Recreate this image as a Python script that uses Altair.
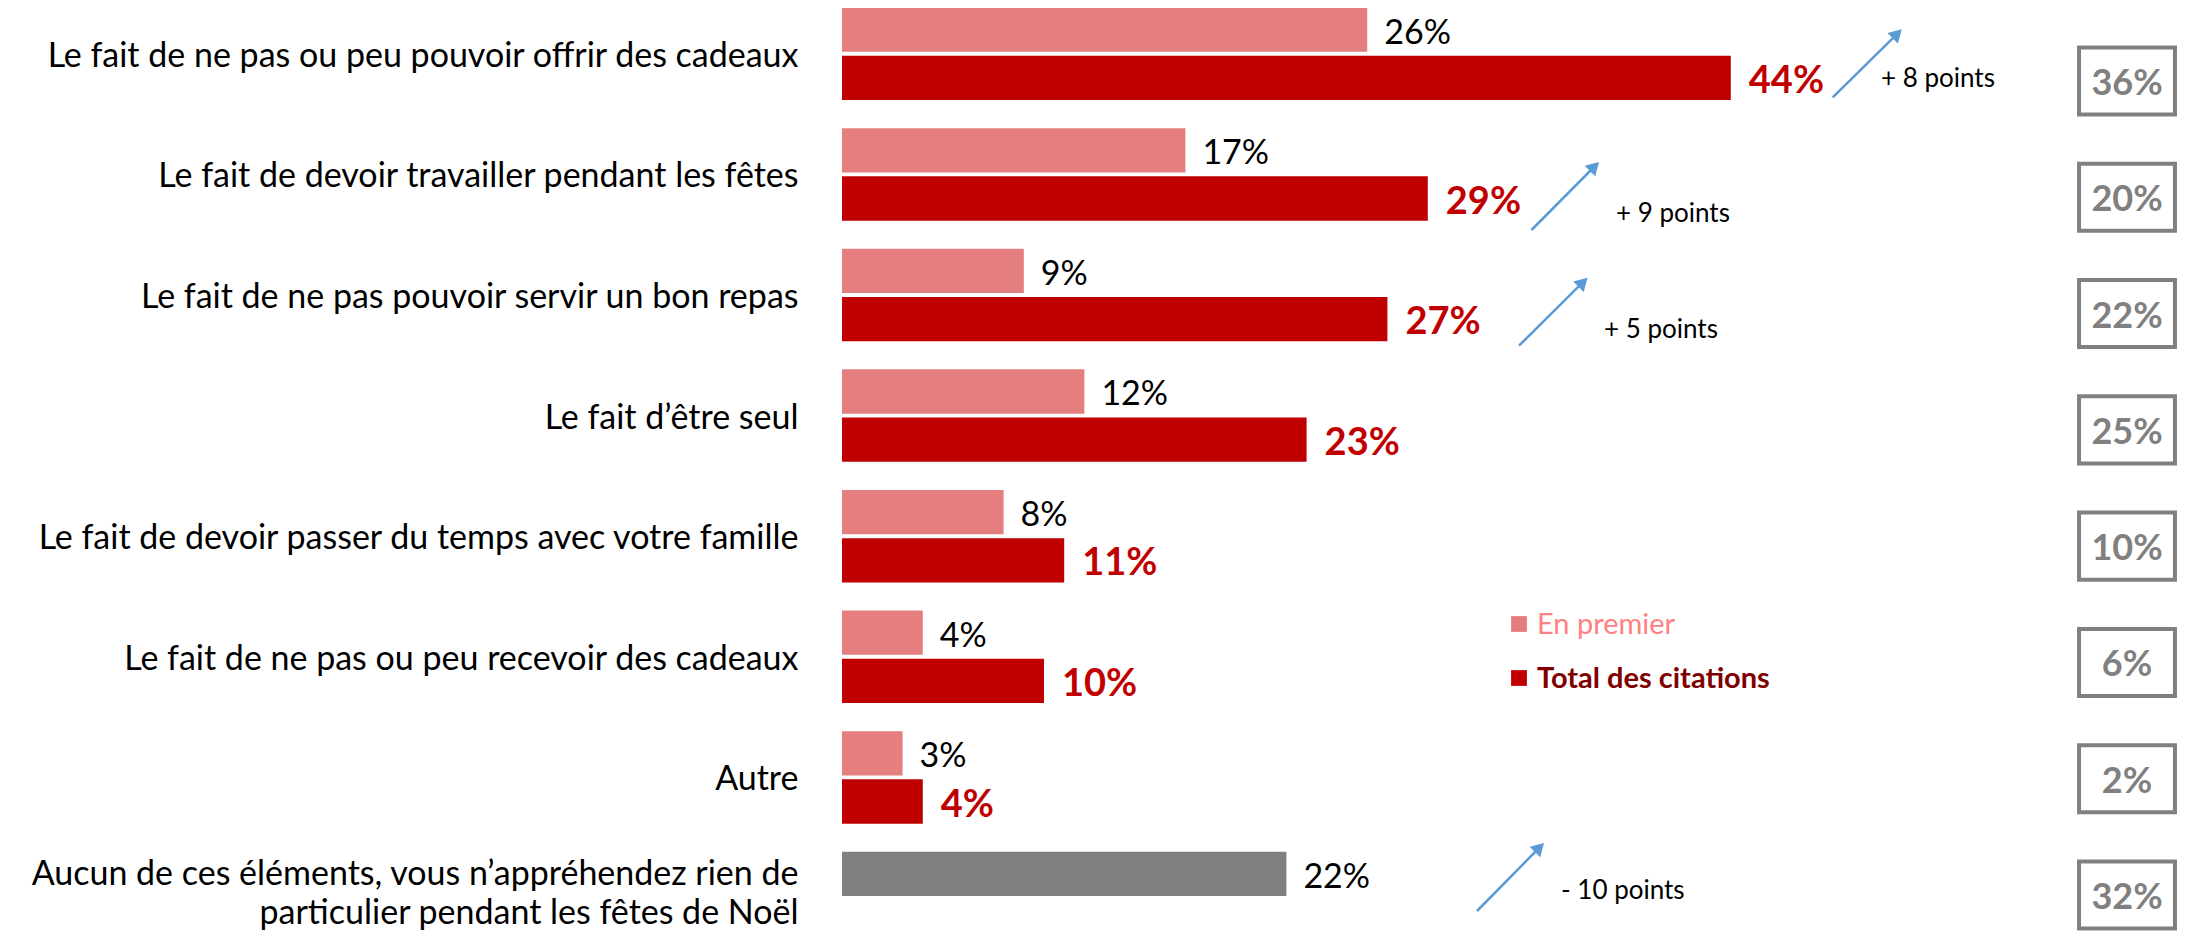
import altair as alt
import pandas as pd

# ---------------- data ----------------
categories = [
    "Le fait de ne pas ou peu pouvoir offrir des cadeaux",
    "Le fait de devoir travailler pendant les fêtes",
    "Le fait de ne pas pouvoir servir un bon repas",
    "Le fait d’être seul",
    "Le fait de devoir passer du temps avec votre famille",
    "Le fait de ne pas ou peu recevoir des cadeaux",
    "Autre",
    "Aucun de ces éléments, vous n’appréhendez rien de\nparticulier pendant les fêtes de Noël",
]
series = ["En premier", "Total des citations"]
en_premier = [26, 17, 9, 12, 8, 4, 3, 22]
total_citations = [44, 29, 27, 23, 11, 10, 4, None]
previous_total = [36, 20, 22, 25, 10, 6, 2, 32]
evolution = ["+ 8 points", "+ 9 points", "+ 5 points", None, None, None, None, "- 10 points"]

# ---------------- styles ----------------
FONT = "Lato"
LIGHT = "#E57F7F"
DARK = "#C00000"
GREY = "#808080"
BLUE = "#5B9BD5"
PX_PER_PCT = 20.2
PLOT_W, PLOT_H = 1335, 927

rows = []
for i, c in enumerate(categories):
    kind_first = "aucun" if total_citations[i] is None else "premier"
    rows.append({"cat": c, "series": series[0], "value": en_premier[i],
                 "kind": kind_first, "label": f"{en_premier[i]}%"})
    if total_citations[i] is not None:
        rows.append({"cat": c, "series": series[1], "value": total_citations[i],
                     "kind": "total", "label": f"{total_citations[i]}%"})
bars_df = pd.DataFrame(rows)
box_df = pd.DataFrame({"cat": categories, "prev": [f"{v}%" for v in previous_total]})

y_scale = alt.Scale(domain=categories, range=[-0.45, 936.25], paddingInner=0.233, paddingOuter=0)
y_axis = alt.Axis(
    title=None, domain=False, ticks=False, labelFont=FONT, labelFontSize=34,
    labelColor="black", labelPadding=44, labelLimit=1200,
    labelExpr="split(datum.label, '\\n')", labelLineHeight=39,
    labelOffset={"condition": {"test": "indexof(datum.value, 'Aucun') == 0", "value": -23}, "value": 3},
)
Y = alt.Y("cat:N", sort=categories, scale=y_scale, axis=y_axis)
YOFF = alt.YOffset("series:N", scale=alt.Scale(domain=series, paddingInner=0.081, paddingOuter=0))
X = alt.X("value:Q", scale=alt.Scale(domain=[0, PLOT_W / PX_PER_PCT], nice=False, zero=True), axis=None)

base = alt.Chart(bars_df)
bars = base.mark_bar().encode(
    y=Y, yOffset=YOFF, x=X,
    color=alt.Color("kind:N", scale=alt.Scale(domain=["premier", "total", "aucun"],
                                              range=[LIGHT, DARK, GREY]), legend=None),
)
lab_first = base.transform_filter(alt.datum.series == series[0]).mark_text(
    align="left", baseline="middle", dx=17, dy=4, font=FONT, fontSize=34, color="black"
).encode(y=Y, yOffset=YOFF, x=X, text="label:N")
lab_total = base.transform_filter(alt.datum.series == series[1]).mark_text(
    align="left", baseline="middle", dx=18, dy=4, font=FONT, fontSize=38, fontWeight="bold", color=DARK
).encode(y=Y, yOffset=YOFF, x=X, text="label:N")

# evolution annotations: (tail x, tail dy, tip x, tip dy, text x, text dy)
ANNOT = {
    0: (990.7, 43.5, 1059.7, -24.5, 1039, 25),
    1: (689.5, 55.6, 757.0, -12.4, 774, 40),
    2: (677.0, 50.7, 745.5, -17.3, 762, 35),
    7: (635.0, 13.0, 702.0, -55.0, 719, -7),
}
annot_layers = []
for i, (tx, tdy, hx, hdy, lx, ldy) in ANNOT.items():
    d = pd.DataFrame({"cat": [categories[i]], "evo": [evolution[i]]})
    c = alt.Chart(d)
    annot_layers.append(
        c.mark_rule(color=BLUE, strokeWidth=2.5, yOffset=tdy, y2Offset=hdy + 4.5)
        .encode(y=Y, y2=alt.Y2("cat"), x=alt.value(tx), x2=alt.value(hx - 4.5))
    )
    annot_layers.append(
        c.mark_point(shape="triangle-up", angle=45, size=220, filled=True, color=BLUE,
                     opacity=1, yOffset=hdy + 4.5)
        .encode(y=Y, x=alt.value(hx - 4.5))
    )
    annot_layers.append(
        c.mark_text(align="left", baseline="middle", font=FONT, fontSize=26, color="black", dy=ldy)
        .encode(y=Y, x=alt.value(lx), text="evo:N")
    )

# legend
leg = []
for s, col, tcol, w, yy in [(series[0], LIGHT, "#FF8080", "normal", 616),
                            (series[1], DARK, "#800000", "bold", 670)]:
    d = pd.DataFrame({"s": [s]})
    leg.append(alt.Chart(d).mark_point(shape="square", size=250, filled=True, color=col, opacity=1)
               .encode(x=alt.value(677), y=alt.value(yy)))
    leg.append(alt.Chart(d).mark_text(align="left", baseline="middle", font=FONT, fontSize=29,
                                      fontWeight=w, color=tcol)
               .encode(x=alt.value(695), y=alt.value(yy + 1), text="s:N"))

main = alt.layer(bars, lab_first, lab_total, *annot_layers, *leg)

# boxes with previous results (own evenly spaced column)
BOX_X = 1285
YB = alt.Y("cat:N", sort=categories,
           scale=alt.Scale(type="point", domain=categories, range=[73, 887], padding=0), axis=None)
boxes = alt.Chart(box_df).mark_point(
    shape="M-1.43,-1L1.43,-1L1.43,1L-1.43,1Z", size=4500, filled=True,
    fill="white", stroke=GREY, strokeWidth=4, opacity=1
).encode(y=YB, x=alt.value(BOX_X))
box_txt = alt.Chart(box_df).mark_text(
    align="center", baseline="middle", font=FONT, fontSize=36, fontWeight="bold",
    color=GREY, dy=3
).encode(y=YB, x=alt.value(BOX_X), text="prev:N")
box_layer = alt.layer(boxes, box_txt)

chart = alt.layer(main, box_layer).resolve_scale(y="independent").properties(
    width=PLOT_W, height=PLOT_H,
    autosize=alt.AutoSizeParams(type="none"),
    padding={"left": 834, "top": 0, "right": 0, "bottom": 0},
).configure_view(stroke=None)

chart.save("out.html", embed_options={"renderer": "svg", "actions": False})
